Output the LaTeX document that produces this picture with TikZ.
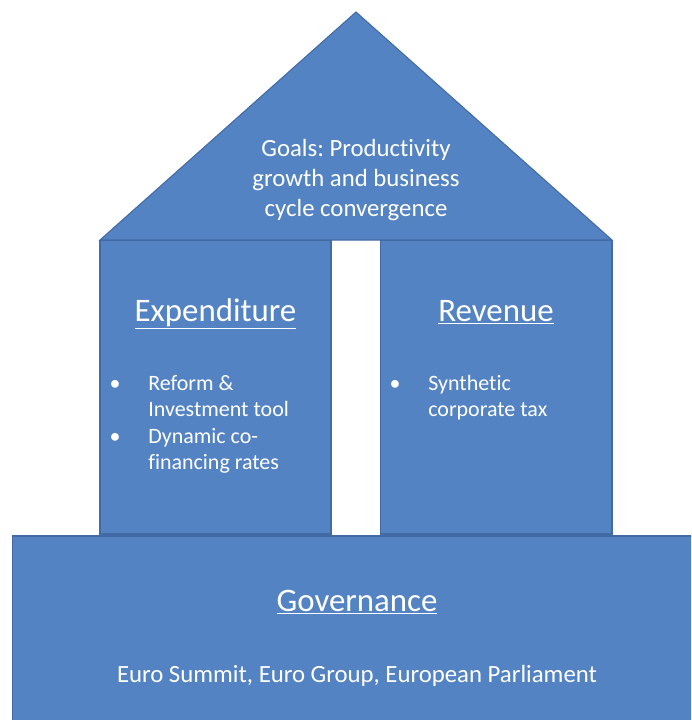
\documentclass[tikz,border=0pt]{standalone}
\usepackage{fontspec}
\setmainfont{Carlito}[Ligatures=NoCommon]
\frenchspacing
\definecolor{housefill}{RGB}{84,131,196}
\definecolor{houseedge}{RGB}{66,106,165}
\usetikzlibrary{positioning}
\tikzset{
	block/.style={
		rectangle,
		fill=housefill,
		draw=houseedge,
		line width=0.6pt
	},
	heading/.style={
		text=white,
		inner sep=0pt,
		font=\fontsize{18.7}{22}\selectfont
	},
	goaltext/.style={
		text=white,
		inner sep=0pt,
		align=center,
		font=\fontsize{14.1}{17}\selectfont
	},
	itemtext/.style={
		text=white,
		inner sep=0pt,
		align=left,
		font=\fontsize{12.5}{14.7}\selectfont
	},
}

\begin{document}
\begin{tikzpicture}[x=0.02cm,y=-0.02cm]
	\useasboundingbox (0,0) rectangle (691,720);
	\clip (0,0) rectangle (691,720);
	% roof
	\draw[block] (100,240) -- (356,12) -- (612,240) -- cycle;
	\node[goaltext] (goals) at (356,180) {Goals: Productivity\\growth and business\\cycle convergence};
	% pillars
	\node[block,minimum width=4.62cm,minimum height=5.88cm] (exp) at (215.5,387) {};
	\node[block,minimum width=4.64cm,minimum height=5.88cm] (rev) at (496,387) {};
	\node[heading,anchor=base] (exphead) at (215.5,321) {\underline{Expenditure}};
	\node[heading,anchor=base] (revhead) at (496,321) {\underline{Revenue}};
	\node[itemtext,anchor=base] (b1) at (115,390) {\textbullet};
	\node[itemtext,anchor=base west] (e1) at (148,416) {Reform \&\\Investment tool};
	\node[itemtext,anchor=base] (b2) at (115,443) {\textbullet};
	\node[itemtext,anchor=base west] (e2) at (148,469) {Dynamic co-\\financing rates};
	\node[itemtext,anchor=base] (b3) at (395,390) {\textbullet};
	\node[itemtext,anchor=base west] (r1) at (428,416) {Synthetic\\corporate tax};
	% foundation
	\node[block,minimum width=13.76cm,minimum height=3.88cm] (gov) at (356,633) {};
	\node[heading,anchor=base] (govhead) at (357,611) {\underline{Governance}};
	\node[goaltext,anchor=base] (bodies) at (357,682) {Euro Summit, Euro Group, European Parliament};
\end{tikzpicture}
\end{document}
